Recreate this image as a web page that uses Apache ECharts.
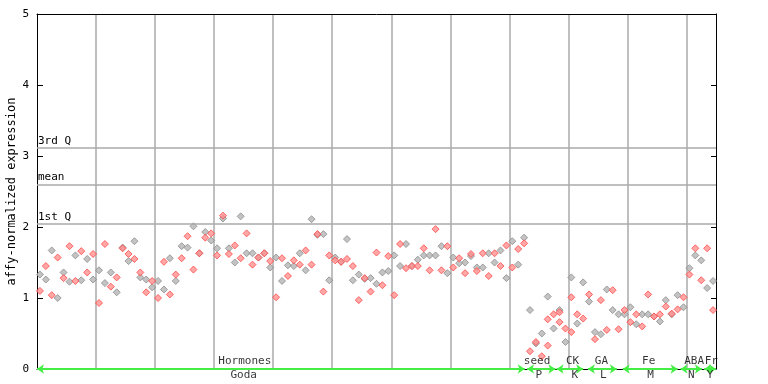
<!DOCTYPE html>
<html><head><meta charset="utf-8">
<script src="https://cdn.jsdelivr.net/npm/echarts@6/dist/echarts.min.js"></script>
<style>html,body{margin:0;padding:0;background:#fff}#c{width:768px;height:384px}</style>
</head><body><div id="c"></div>
<script>
// replicate values per sample slot (slot index 0..114)
const grayValues = [1.33,1.26,1.67,1.00,1.36,1.23,1.60,1.25,1.55,1.26,1.39,1.21,1.36,1.08,1.71,1.52,1.80,1.29,1.26,1.15,
1.24,1.12,1.56,1.24,1.73,1.71,2.01,1.63,1.93,1.81,1.70,2.12,1.70,1.50,2.15,1.63,1.63,1.57,1.63,1.43,
1.57,1.24,1.46,1.45,1.63,1.39,2.11,1.89,1.90,1.25,1.57,1.51,1.83,1.25,1.33,1.27,1.28,1.20,1.36,1.38,
1.60,1.45,1.76,1.45,1.54,1.60,1.60,1.60,1.73,1.35,1.57,1.49,1.50,1.59,1.43,1.43,1.63,1.50,1.67,1.28,
1.80,1.47,1.85,0.83,0.36,0.50,1.02,0.57,0.83,0.38,1.29,0.64,1.22,0.95,0.52,0.49,1.12,0.83,0.77,0.77,
0.87,0.63,0.77,0.77,0.74,0.67,0.97,0.77,1.04,0.87,1.42,1.60,1.53,1.14,1.24];
const redValues = [1.10,1.45,1.04,1.57,1.28,1.73,1.24,1.66,1.36,1.62,0.93,1.76,1.16,1.29,1.70,1.62,1.55,1.36,1.08,1.24,
1.00,1.51,1.05,1.33,1.56,1.87,1.40,1.63,1.85,1.91,1.60,2.16,1.62,1.74,1.56,1.91,1.47,1.57,1.63,1.52,
1.01,1.56,1.31,1.53,1.47,1.67,1.47,1.90,1.09,1.60,1.53,1.51,1.55,1.45,0.97,1.28,1.09,1.64,1.18,1.59,
1.04,1.76,1.42,1.45,1.45,1.70,1.39,1.97,1.39,1.73,1.43,1.56,1.35,1.62,1.38,1.63,1.31,1.63,1.45,1.74,
1.43,1.69,1.77,0.25,0.38,0.18,0.70,0.77,0.80,0.57,1.01,0.77,0.71,1.05,0.42,0.97,0.55,1.11,0.56,0.83,
0.66,0.77,0.60,1.05,0.74,0.77,0.88,0.78,0.84,1.01,1.33,1.70,1.25,1.70,0.83];
const extraSlots = [86, 88, 90];
const extraValues = [0.33, 0.66, 0.52];

const slotCount = 115;
const quartiles = [{name:'3rd Q', value:3.11},{name:'mean', value:2.59},{name:'1st Q', value:2.04}];

const groupNames  = ['Goda','P','K','L','M','N','Y'];
const groupTitles = ['Hormones','seed','CK','GA','Fe','ABA','Fr'];
const groupStart  = [0, 83, 88, 93.3, 99.2, 109, 113];
const groupEnd    = [82.6, 87.8, 92.5, 98.2, 108.5, 112.6, 115];
const titlePos    = [35.2, 84.7, 90.7, 95.6, 103.6, 111.3, 114.2];
const namePos     = [35.0, 85.0, 91.1, 95.9, 103.9, 110.8, 114.0];

const FONT = 'DejaVu Sans Mono';
const toPts = arr => arr.map((v,i)=>[i+0.5, v]);

const chart = echarts.init(document.getElementById('c'), null, {renderer:'canvas'});
chart.setOption({
  animation:false,
  grid:{left:37,right:52,top:14,bottom:15,show:false,containLabel:false,outerBoundsMode:'none'},
  xAxis:[{
    type:'value',min:0,max:slotCount,interval:10,position:'bottom',
    axisLine:{show:true,onZero:false,lineStyle:{color:'#000',width:1}},
    axisTick:{show:false},axisLabel:{show:false},
    splitLine:{show:true,showMinLine:false,showMaxLine:false,lineStyle:{color:'#aaaaaa',width:1.5}}
  },{
    type:'value',min:0,max:slotCount,position:'top',
    axisLine:{show:true,onZero:false,lineStyle:{color:'#000',width:1}},
    axisTick:{show:false},axisLabel:{show:false},splitLine:{show:false}
  }],
  yAxis:[{
    type:'value',min:0,max:5,interval:1,position:'left',
    name:'affy-normalized expression',nameLocation:'middle',nameGap:19,nameMoveOverlap:false,
    nameTextStyle:{fontFamily:FONT,fontSize:12,color:'#000'},
    axisLine:{show:true,onZero:false,lineStyle:{color:'#000',width:1}},
    axisTick:{show:true,inside:true,length:6,lineStyle:{color:'#000'}},
    axisLabel:{fontFamily:FONT,fontSize:11,color:'#000',margin:8},
    splitLine:{show:false}
  },{
    type:'value',min:0,max:5,interval:1,position:'right',
    axisLine:{show:true,onZero:false,lineStyle:{color:'#000',width:1}},
    axisTick:{show:true,inside:true,length:5,lineStyle:{color:'#000'}},
    axisLabel:{show:false},splitLine:{show:false}
  }],
  series:[
    {type:'scatter',data:[],silent:true,
     markLine:{silent:true,symbol:['none','none'],
       lineStyle:{color:'#aaaaaa',width:1.5,type:'solid'},
       label:{position:'insideStartTop',distance:[1,2],formatter:p=>p.name,fontFamily:FONT,fontSize:11,color:'#000'},
       data:quartiles.map(q=>({name:q.name,yAxis:q.value}))}},
    {type:'scatter',name:'gray',data:toPts(grayValues),symbol:'diamond',symbolSize:7,
     itemStyle:{color:'#b4b4b4',borderColor:'#8c8c8c',borderWidth:1}},
    {type:'scatter',name:'red',data:toPts(redValues).concat(extraSlots.map((s,k)=>[s+0.5,extraValues[k]])),symbol:'diamond',symbolSize:7,
     itemStyle:{color:'#ff9090',borderColor:'#ff4848',borderWidth:1}},
    {type:'scatter',data:[],silent:true,z:5,
     markLine:{silent:true,symbol:['arrow','arrow'],symbolSize:[7,7],
       lineStyle:{color:'#44ee44',width:2,type:'solid'},label:{show:false},
       data:groupNames.map((g,k)=>[{coord:[groupStart[k],0]},{coord:[groupEnd[k],0]}])}},
    {type:'scatter',silent:true,symbolSize:0,clip:false,z:6,
     data:titlePos.map((x,k)=>({value:[x,0],name:groupTitles[k]})),
     label:{show:true,position:'top',distance:2,formatter:p=>p.name,fontFamily:FONT,fontSize:11,color:'#000'},
     labelLayout:{hideOverlap:false}},
    {type:'scatter',silent:true,symbolSize:0,clip:false,z:6,
     data:namePos.map((x,k)=>({value:[x,0],name:groupNames[k]})),
     label:{show:true,position:'bottom',distance:1,formatter:p=>p.name,fontFamily:FONT,fontSize:11,color:'#000'},
     labelLayout:{hideOverlap:false}}
  ]
});
</script></body></html>
